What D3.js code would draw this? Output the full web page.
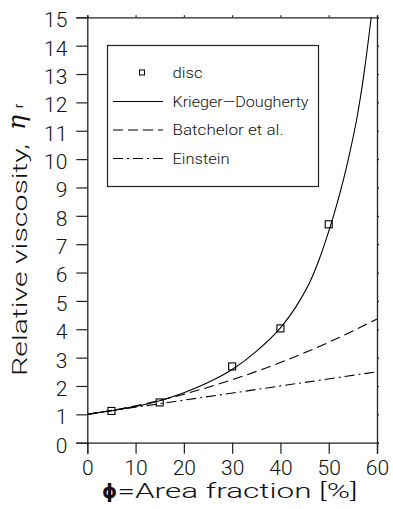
<!DOCTYPE html>
<html><head><meta charset="utf-8">
<script src="https://cdn.jsdelivr.net/npm/d3@7/dist/d3.min.js"></script>
<style>body{margin:0;background:#fff}svg{display:block}</style>
</head><body>
<script>
// ---- data ----
const discPhi = [5, 15, 30, 40, 50];
const discEta = [1.12, 1.42, 2.69, 4.03, 7.7];

const kdPhi = [0, 5, 10, 15, 20, 25, 30, 35, 40, 42, 44, 46, 48, 50, 52, 54, 56, 57, 58, 58.8];
const kdEta = [1.0, 1.13, 1.28, 1.48, 1.76, 2.12, 2.58, 3.22, 4.05, 4.49, 5.01, 5.63, 6.45, 7.45, 8.6, 9.95, 11.6, 12.65, 13.9, 15.0];

const batPhi = [0, 10, 20, 30, 40, 50, 60];
const batEta = [1.0, 1.30, 1.71, 2.22, 2.83, 3.54, 4.36];

const einPhi = [0, 60];
const einEta = [1.0, 2.5];

const xTicks = [0, 10, 20, 30, 40, 50, 60];
const yTicks = [0, 1, 2, 3, 4, 5, 6, 7, 8, 9, 10, 11, 12, 13, 14, 15];
const legendLabels = ["disc", "Krieger\u2014Dougherty", "Batchelor  et  al.", "Einstein"];

// ---- drawing ----
const W = 393, H = 509;
const svg = d3.select("body").append("svg").attr("width", W).attr("height", H);
const x = d3.scaleLinear().domain([0, 60]).range([87.3, 377]);
const y = d3.scaleLinear().domain([0, 15]).range([442.7, 17.3]);
const font = "Roboto, 'Open Sans', 'DejaVu Sans', sans-serif";
const axisColor = "#222";

svg.append("defs").append("clipPath").attr("id", "clip")
  .append("rect").attr("x", x(0)).attr("y", y(15)).attr("width", x(60) - x(0)).attr("height", y(0) - y(15));

// axes
const gL = svg.append("g").attr("transform", `translate(${x(0)},0)`)
  .call(d3.axisLeft(y).tickValues(yTicks).tickSize(11).tickPadding(9).tickFormat(d3.format("d")));
const gB = svg.append("g").attr("transform", `translate(0,${y(0)})`)
  .call(d3.axisBottom(x).tickValues(xTicks).tickSize(11).tickPadding(8).tickFormat(d3.format("d")));
const gR = svg.append("g").attr("transform", `translate(${x(60)},0)`)
  .call(d3.axisRight(y).tickValues(yTicks).tickSize(2).tickFormat(""));
const gT = svg.append("g").attr("transform", `translate(0,${y(15)})`)
  .call(d3.axisTop(x).tickValues(xTicks).tickSize(2).tickFormat(""));
[gL, gB, gR, gT].forEach(g => {
  g.select(".domain").attr("stroke", axisColor).attr("stroke-width", 1.3);
  g.selectAll(".tick line").attr("stroke", axisColor).attr("stroke-width", 1.2);
  g.selectAll(".tick text").attr("fill", "#111").style("font-family", font)
    .style("font-weight", 300).style("font-size", "21px");
});
gL.selectAll(".tick text").attr("dy", "0.45em");
gB.selectAll(".tick text").attr("dy", "0.62em");

// lines
const plot = svg.append("g").attr("clip-path", "url(#clip)");
const smooth = d3.line().x(d => x(d[0])).y(d => y(d[1])).curve(d3.curveMonotoneX);
const straight = d3.line().x(d => x(d[0])).y(d => y(d[1]));
plot.append("path").datum(d3.zip(kdPhi, kdEta))
  .attr("d", smooth).attr("fill", "none").attr("stroke", "#000").attr("stroke-width", 1.1);
plot.append("path").datum(d3.zip(batPhi, batEta))
  .attr("d", smooth).attr("fill", "none").attr("stroke", "#000").attr("stroke-width", 1.1).attr("stroke-dasharray", "10,5");
plot.append("path").datum(d3.zip(einPhi, einEta))
  .attr("d", straight).attr("fill", "none").attr("stroke", "#000").attr("stroke-width", 1.1).attr("stroke-dasharray", "10,4,2,4");

// markers
const ms = 7;
svg.append("g").selectAll("rect").data(d3.zip(discPhi, discEta)).join("rect")
  .attr("x", d => x(d[0]) - ms / 2).attr("y", d => y(d[1]) - ms / 2)
  .attr("width", ms).attr("height", ms)
  .attr("fill", "none").attr("stroke", "#000").attr("stroke-width", 1.1);

// legend
const lg = svg.append("g");
lg.append("rect").attr("x", 107.5).attr("y", 45.5).attr("width", 211).attr("height", 141)
  .attr("fill", "#fff").attr("stroke", axisColor).attr("stroke-width", 1.2);
const rows = [72.5, 101.5, 130, 158.5];
lg.append("rect").attr("x", 139.5).attr("y", rows[0] - 2.5).attr("width", 5).attr("height", 5)
  .attr("fill", "none").attr("stroke", "#000").attr("stroke-width", 1);
lg.append("line").attr("x1", 113).attr("x2", 163).attr("y1", rows[1]).attr("y2", rows[1]).attr("stroke", "#000").attr("stroke-width", 1.1);
lg.append("line").attr("x1", 113).attr("x2", 163).attr("y1", rows[2]).attr("y2", rows[2]).attr("stroke", "#000").attr("stroke-width", 1.1).attr("stroke-dasharray", "10,5");
lg.append("line").attr("x1", 113).attr("x2", 163).attr("y1", rows[3]).attr("y2", rows[3]).attr("stroke", "#000").attr("stroke-width", 1.1).attr("stroke-dasharray", "10,4,2,4");
const lw = [30, 136, 111, 57];
lg.selectAll("text.lab").data(legendLabels).join("text").attr("class", "lab")
  .attr("x", 172.5).attr("y", (d, i) => rows[i] + 5)
  .attr("textLength", (d, i) => lw[i]).attr("lengthAdjust", "spacingAndGlyphs")
  .style("font-family", font).style("font-size", "14px").style("font-weight", 300)
  .attr("fill", "#111").text(d => d);

// x axis title
svg.append("text").attr("x", 102).attr("y", 498).text("\u03d5")
  .style("font-family", "'DejaVu Sans', sans-serif").style("font-size", "19px").style("font-weight", 700).attr("fill", "#111");
svg.append("text").attr("x", 117.5).attr("y", 498).text("=Area fraction [%]")
  .attr("textLength", 240).attr("lengthAdjust", "spacingAndGlyphs")
  .style("font-family", font).style("font-size", "21px").style("font-weight", 300).attr("fill", "#111");

// y axis title (rotated)
const yt = svg.append("g").attr("transform", "translate(27,0) rotate(-90)");
yt.append("text").attr("x", -376).attr("y", 0).text("Relative viscosity,")
  .attr("textLength", 232).attr("lengthAdjust", "spacingAndGlyphs")
  .style("font-family", font).style("font-size", "21px").style("font-weight", 300).attr("fill", "#111");
yt.append("text").attr("x", -130).attr("y", -2).text("\u03b7")
  .style("font-family", "'DejaVu Serif', serif").style("font-style", "italic").style("font-size", "25px").attr("fill", "#111");
yt.append("text").attr("x", -108).attr("y", -4).text("r")
  .style("font-family", font).style("font-size", "12px").style("font-weight", 400).attr("fill", "#111");
</script>
</body></html>
